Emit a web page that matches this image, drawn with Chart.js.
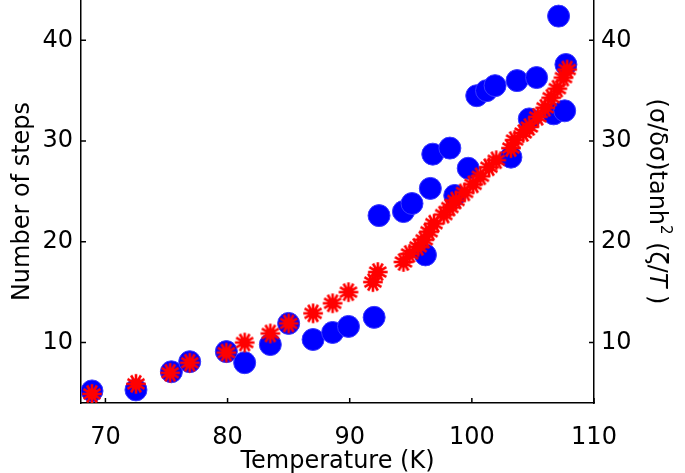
<!DOCTYPE html>
<html>
<head>
<meta charset="utf-8">
<script src="https://cdn.jsdelivr.net/npm/chart.js@4/dist/chart.umd.min.js"></script>
<style>
  html, body { margin: 0; padding: 0; background: #fff; }
  canvas { display: block; }
</style>
</head>
<body>
<canvas id="chart" width="685" height="473"></canvas>
<script>
// number of steps (left axis), blue circles
const stepTemps = [68.9, 72.5, 75.4, 76.9, 79.9, 81.4, 83.5, 85.0, 87.0, 88.6, 89.9, 92.0,
  92.4, 94.4, 95.1, 96.2, 96.6, 96.8, 98.2, 98.6, 99.7, 100.4, 101.2, 101.9, 103.2,
  103.7, 104.7, 105.3, 106.7, 107.1, 107.6, 107.7];
const stepCounts = [5.2, 5.3, 7.1, 8.1, 9.1, 8.0, 9.8, 11.9, 10.3, 11.0, 11.6, 12.5,
  22.6, 23.0, 23.8, 18.7, 25.3, 28.7, 29.3, 24.6, 27.3, 34.5, 35.0, 35.5, 28.4,
  36.0, 32.2, 36.3, 32.7, 42.4, 33.0, 37.6];

// (sigma/dsigma) tanh^2 (zeta/T) (right axis), red stars
const ratioTemps = [68.9, 72.5, 75.3, 76.9, 79.9, 81.4, 83.5, 85.0, 87.0, 88.6, 89.9, 91.9,
  92.3, 94.4, 94.9, 95.6, 96.1, 96.5, 96.9, 97.7, 98.2, 98.7, 99.4, 100.1, 100.7,
  101.4, 102.0, 103.2, 103.5, 104.2, 104.7, 105.4, 106.0, 106.5, 107.0, 107.5, 107.8];
const ratioValues = [4.9, 5.9, 7.0, 8.0, 9.0, 10.0, 10.9, 11.9, 12.9, 13.9, 15.0, 16.0,
  17.0, 18.0, 18.8, 19.5, 20.2, 21.0, 21.8, 22.7, 23.4, 24.1, 24.9, 25.7, 26.5,
  27.4, 28.1, 29.3, 30.1, 30.8, 31.4, 32.4, 33.3, 34.3, 35.2, 36.3, 37.1];

const xTicks = [70, 80, 90, 100, 110];
const yTicks = [10, 20, 30, 40];

const FONT = "'DejaVu Sans', sans-serif";

// asterisk marker like matlab '*'
const star = document.createElement("canvas");
star.width = 24;
star.height = 24;
(function () {
  const c = star.getContext("2d");
  c.strokeStyle = "#ff0000";
  c.fillStyle = "#ff0000";
  c.lineWidth = 2.6;
  for (let i = 0; i < 6; i++) {
    const a = (i * Math.PI) / 6;
    c.beginPath();
    c.moveTo(12 - 9.8 * Math.cos(a), 12 - 9.8 * Math.sin(a));
    c.lineTo(12 + 9.8 * Math.cos(a), 12 + 9.8 * Math.sin(a));
    c.stroke();
  }
  c.beginPath();
  c.arc(12, 12, 5.5, 0, Math.PI * 2);
  c.fill();
})();

const toPoints = (xs, ys) => xs.map((x, i) => ({ x: x, y: ys[i] }));

// no extra room for first/last labels: the plot runs to the top edge
const noPad = s => { s.paddingTop = 0; s.paddingBottom = 0; s.paddingLeft = 0; s.paddingRight = 0; };

// inward tick marks + right axis title with italic T
const extras = {
  id: "extras",
  afterDraw(chart) {
    const ctx = chart.ctx;
    const a = chart.chartArea;
    const x = chart.scales.x, yl = chart.scales.y, yr = chart.scales.y2;
    ctx.save();
    ctx.strokeStyle = "#000";
    ctx.lineWidth = 1.5;
    ctx.beginPath();
    xTicks.forEach(v => {
      const px = x.getPixelForValue(v);
      ctx.moveTo(px, a.bottom);
      ctx.lineTo(px, a.bottom - 5);
    });
    yTicks.forEach(v => {
      const py = yl.getPixelForValue(v);
      ctx.moveTo(a.left, py);
      ctx.lineTo(a.left + 5, py);
      const pr = yr.getPixelForValue(v);
      ctx.moveTo(a.right, pr);
      ctx.lineTo(a.right - 5, pr);
    });
    ctx.stroke();

    // right title, rotated clockwise
    ctx.translate(656, (a.top + a.bottom) / 2);
    ctx.rotate(Math.PI / 2);
    ctx.fillStyle = "#000";
    ctx.textBaseline = "middle";
    const parts = [
      { t: "(σ/δσ)tanh", f: "24px " + FONT, dy: 0 },
      { t: "2", f: "15px " + FONT, dy: -9 },
      { t: " (ζ/", f: "24px " + FONT, dy: 0 },
      { t: "T", f: "italic 24px " + FONT, dy: 0 },
      { t: " )", f: "24px " + FONT, dy: 0 }
    ];
    let total = 0;
    parts.forEach(p => { ctx.font = p.f; p.w = ctx.measureText(p.t).width; total += p.w; });
    let cx = -total / 2;
    parts.forEach(p => {
      ctx.font = p.f;
      ctx.fillText(p.t, cx, p.dy);
      cx += p.w;
    });
    ctx.restore();
  }
};

new Chart(document.getElementById("chart"), {
  type: "scatter",
  data: {
    datasets: [
      {
        label: "ratio",
        data: toPoints(ratioTemps, ratioValues),
        yAxisID: "y2",
        pointStyle: star,
        order: 0
      },
      {
        label: "steps",
        data: toPoints(stepTemps, stepCounts),
        yAxisID: "y",
        pointStyle: "circle",
        pointRadius: 11,
        backgroundColor: "#0000ff",
        borderColor: "#3a3aff",
        borderWidth: 1,
        order: 1
      }
    ]
  },
  options: {
    responsive: false,
    animation: false,
    layout: { padding: 0, autoPadding: false },
    plugins: {
      legend: { display: false },
      tooltip: { enabled: false }
    },
    scales: {
      x: {
        type: "linear",
        min: 68,
        max: 110,
        afterBuildTicks: s => { s.ticks = xTicks.map(v => ({ value: v })); },
        afterFit: s => { s.height = 70; noPad(s); },
        grid: { display: false, drawTicks: false },
        border: { display: true, color: "#000", width: 1.5 },
        ticks: { color: "#000", font: { family: FONT, size: 24 }, padding: 20, maxRotation: 0 },
        title: {
          display: true,
          text: "Temperature (K)",
          color: "#000",
          font: { family: FONT, size: 24 },
          padding: { top: 0, bottom: -3 }
        }
      },
      y: {
        position: "left",
        min: 4,
        max: 44,
        afterBuildTicks: s => { s.ticks = yTicks.map(v => ({ value: v })); },
        afterFit: s => { s.width = 81; noPad(s); },
        grid: { display: false, drawTicks: false },
        border: { display: true, color: "#000", width: 1.5 },
        ticks: { color: "#000", font: { family: FONT, size: 24 }, padding: 8 },
        title: {
          display: true,
          text: "Number of steps",
          color: "#000",
          font: { family: FONT, size: 24 },
          padding: { top: 8, bottom: 0 }
        }
      },
      y2: {
        position: "right",
        min: 4,
        max: 44,
        afterBuildTicks: s => { s.ticks = yTicks.map(v => ({ value: v })); },
        afterFit: s => { s.width = 91; noPad(s); },
        grid: { display: false, drawTicks: false },
        border: { display: true, color: "#000", width: 1.5 },
        ticks: { color: "#000", font: { family: FONT, size: 24 }, padding: 7 }
      }
    }
  },
  plugins: [extras]
});
</script>
</body>
</html>
